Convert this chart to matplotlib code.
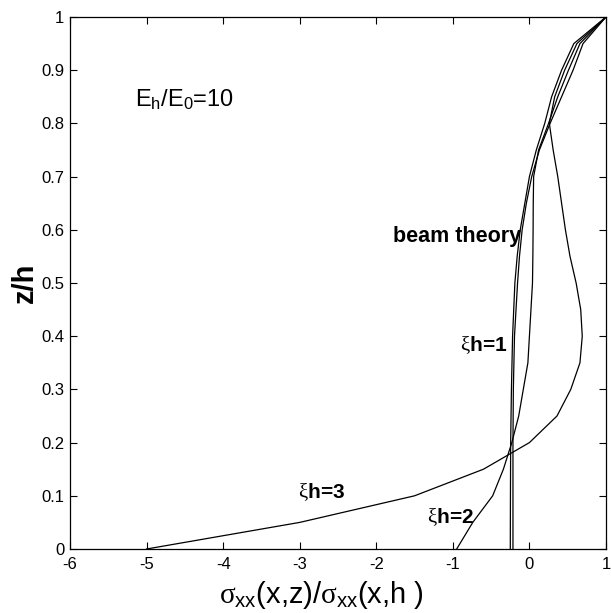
import numpy as np
import matplotlib
import matplotlib.pyplot as plt

matplotlib.use("Agg")

plt.rcParams["font.family"] = ["Liberation Sans", "DejaVu Sans"]
plt.rcParams["mathtext.fontset"] = "custom"
plt.rcParams["mathtext.rm"] = "Liberation Serif"
plt.rcParams["mathtext.it"] = "Liberation Serif"
plt.rcParams["mathtext.sf"] = "Liberation Sans"

# z/h positions and normalised stress for each profile
z_beam = [0.0, 0.1, 0.2, 0.3, 0.4, 0.5, 0.55, 0.6, 0.65, 0.7, 0.75, 0.8, 0.85, 0.9, 0.95, 1.0]
s_beam = [-0.215, -0.215, -0.215, -0.21, -0.195, -0.155, -0.13, -0.095, -0.04, 0.03, 0.13, 0.27, 0.42, 0.57, 0.70, 1.0]

z_xi1 = [0.0, 0.1, 0.2, 0.3, 0.4, 0.5, 0.55, 0.6, 0.65, 0.7, 0.75, 0.8, 0.85, 0.9, 0.95, 1.0]
s_xi1 = [-0.25, -0.248, -0.245, -0.235, -0.22, -0.19, -0.16, -0.12, -0.06, 0.0, 0.09, 0.20, 0.29, 0.42, 0.58, 1.0]

z_xi2 = [0.0, 0.05, 0.1, 0.15, 0.2, 0.25, 0.3, 0.35, 0.4, 0.45, 0.5, 0.55, 0.6, 0.65, 0.7, 0.75, 0.8, 0.85, 0.9, 0.95, 1.0]
s_xi2 = [-0.95, -0.74, -0.48, -0.34, -0.23, -0.14, -0.08, -0.02, 0.0, 0.02, 0.04, 0.045, 0.048, 0.05, 0.055, 0.12, 0.25, 0.37, 0.51, 0.66, 1.0]

z_xi3 = [0.0, 0.05, 0.1, 0.15, 0.2, 0.25, 0.3, 0.35, 0.4, 0.45, 0.5, 0.55, 0.6, 0.65, 0.7, 0.75, 0.8, 0.85, 0.9, 0.95, 1.0]
s_xi3 = [-5.0, -3.0, -1.5, -0.6, 0.0, 0.36, 0.54, 0.66, 0.69, 0.67, 0.61, 0.53, 0.47, 0.42, 0.37, 0.31, 0.26, 0.33, 0.46, 0.62, 1.0]

x_ticks = [-6, -5, -4, -3, -2, -1, 0, 1]
y_ticks = [0, 0.1, 0.2, 0.3, 0.4, 0.5, 0.6, 0.7, 0.8, 0.9, 1]

fig = plt.figure(figsize=(6.11, 6.13), dpi=100)
ax = fig.add_axes([0.1146, 0.1044, 0.8772, 0.8679])

for s, z in [(s_beam, z_beam), (s_xi1, z_xi1), (s_xi2, z_xi2), (s_xi3, z_xi3)]:
    ax.plot(s, z, color="black", lw=0.9)

ax.set_xlim(-6, 1)
ax.set_ylim(0, 1)
ax.set_xticks(x_ticks)
ax.set_yticks(y_ticks)
ax.set_xticklabels([str(t) for t in x_ticks])
ax.set_yticklabels([f"{t:g}" for t in y_ticks])
ax.tick_params(direction="in", top=True, right=True, length=5, width=0.8,
               labelsize=12)
ax.tick_params(axis="x", pad=6)
ax.tick_params(axis="y", pad=4)
for sp in ax.spines.values():
    sp.set_linewidth(0.9)

ax.text(-5.15, 0.845, r"E$_\mathsf{h}$/E$_\mathsf{0}$=10", fontsize=17,
        ha="left", va="center")
ax.text(-0.11, 0.588, "beam theory", fontsize=15.5, fontweight="bold",
        ha="right", va="center")
ax.text(-0.29, 0.383, r"$\xi$h=1", fontsize=15, fontweight="bold",
        ha="right", va="center")
ax.text(-0.72, 0.06, r"$\xi$h=2", fontsize=15, fontweight="bold",
        ha="right", va="center")
ax.text(-3.02, 0.107, r"$\xi$h=3", fontsize=15, fontweight="bold",
        ha="left", va="center")

ax.set_xlabel(r"$\sigma_{\mathsf{xx}}$(x,z)/$\sigma_{\mathsf{xx}}$(x,h )", fontsize=21)
ax.xaxis.set_label_coords(0.47, -0.056, transform=ax.transAxes)
ax.xaxis.label.set_va("top")
ax.set_ylabel("z/h", fontsize=21, fontweight="bold", labelpad=2)

fig.savefig("out.png", dpi=100)
